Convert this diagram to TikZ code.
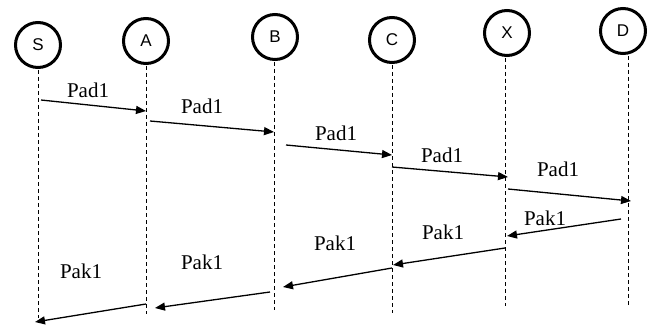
\documentclass[tikz,border=0pt]{standalone}
\usepackage{fontspec}
\setmainfont{Liberation Serif}
\newfontfamily\actorfont{Liberation Sans}
\usetikzlibrary{arrows.meta}
\begin{document}
\begin{tikzpicture}[x=1pt,y=-1pt,
  actor/.style={draw,circle,line width=3pt,minimum size=45pt,inner sep=0pt,font=\actorfont\fontsize{17}{17}\selectfont},
  life/.style={draw,line width=1pt,dash pattern=on 4pt off 3pt},
  msg/.style={draw,line width=1.3pt,-{Triangle[length=10pt,width=8pt]}},
  lbl/.style={font=\fontsize{21}{24}\selectfont,inner sep=0pt}]
\useasboundingbox (0,0) rectangle (654,329);
% actors
\node[actor] (S) at (38,45) {S};
\node[actor] (A) at (146,41) {A};
\node[actor] (B) at (275,37) {B};
\node[actor] (C) at (392,40) {C};
\node[actor] (X) at (507,33) {X};
\node[actor] (D) at (623,31) {D};
% lifeline ends
\coordinate (St) at (38,70);   \coordinate (Sb) at (38,318);
\coordinate (At) at (146,66);  \coordinate (Ab) at (146,314);
\coordinate (Bt) at (274,62);  \coordinate (Bb) at (274,310);
\coordinate (Ct) at (392,65);  \coordinate (Cb) at (392,313);
\coordinate (Xt) at (505,58);  \coordinate (Xb) at (505,306);
\coordinate (Dt) at (628,56);  \coordinate (Db) at (628,307);
\draw[life] (St) -- (Sb);
\draw[life] (At) -- (Ab);
\draw[life] (Bt) -- (Bb);
\draw[life] (Ct) -- (Cb);
\draw[life] (Xt) -- (Xb);
\draw[life] (Dt) -- (Db);
% forward messages
\coordinate (f1s) at (41,100);  \coordinate (f1e) at (146,111);
\coordinate (f2s) at (150,121); \coordinate (f2e) at (274,132);
\coordinate (f3s) at (286,145); \coordinate (f3e) at (392,155);
\coordinate (f4s) at (392,167); \coordinate (f4e) at (508,177);
\coordinate (f5s) at (508,189); \coordinate (f5e) at (631,201);
\draw[msg] (f1s) -- (f1e);
\draw[msg] (f2s) -- (f2e);
\draw[msg] (f3s) -- (f3e);
\draw[msg] (f4s) -- (f4e);
\draw[msg] (f5s) -- (f5e);
\node[lbl] (p1) at (88,90) {Pad1};
\node[lbl] (p2) at (202,106) {Pad1};
\node[lbl] (p3) at (336,133) {Pad1};
\node[lbl] (p4) at (442,155) {Pad1};
\node[lbl] (p5) at (558,169) {Pad1};
% backward messages
\coordinate (b1s) at (621,219); \coordinate (b1e) at (507,236);
\coordinate (b2s) at (505,248); \coordinate (b2e) at (393,265);
\coordinate (b3s) at (392,268); \coordinate (b3e) at (283,287);
\coordinate (b4s) at (270,292); \coordinate (b4e) at (155,308);
\coordinate (b5s) at (146,304); \coordinate (b5e) at (35,322);
\draw[msg] (b1s) -- (b1e);
\draw[msg] (b2s) -- (b2e);
\draw[msg] (b3s) -- (b3e);
\draw[msg] (b4s) -- (b4e);
\draw[msg] (b5s) -- (b5e);
\node[lbl] (k1) at (545,218) {Pak1};
\node[lbl] (k2) at (443,232) {Pak1};
\node[lbl] (k3) at (335,243) {Pak1};
\node[lbl] (k4) at (202,262) {Pak1};
\node[lbl] (k5) at (81,271) {Pak1};
\end{tikzpicture}
\end{document}
